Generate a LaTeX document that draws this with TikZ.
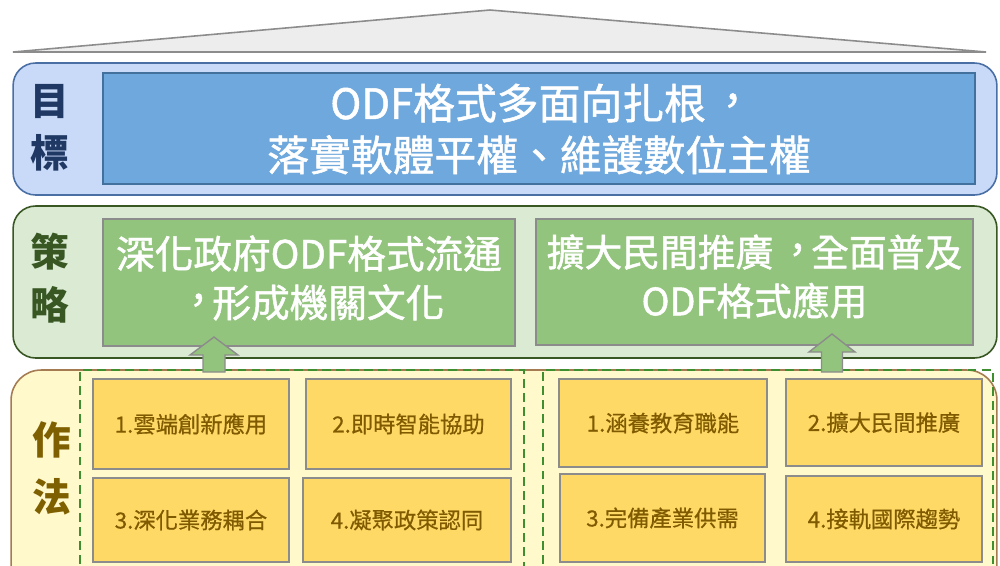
\documentclass[tikz,border=0pt]{standalone}
\usepackage{fontspec}
\setmainfont{Noto Sans CJK TC}
\newfontfamily\heavyfont{Noto Sans CJK TC}[FakeBold=1.2]
\newfontfamily\medfont{Noto Sans CJK TC}[FakeBold=0.6]
\newcommand\tcm{\makebox[1em][l]{\hspace{0.14em}\raisebox{0.08em}{\makebox[0pt][l]{，}}}}
\usetikzlibrary{calc}
\definecolor{roofF}{HTML}{EDEDED}
\definecolor{roofD}{HTML}{8C8C8C}
\definecolor{goalF}{HTML}{C9DAF8}
\definecolor{goalD}{HTML}{4A6FA5}
\definecolor{goalIF}{HTML}{6FA8DC}
\definecolor{goalID}{HTML}{41719C}
\definecolor{goalT}{HTML}{1F3864}
\definecolor{stratF}{HTML}{DAEAD3}
\definecolor{stratD}{HTML}{385723}
\definecolor{stratIF}{HTML}{93C47D}
\definecolor{stratT}{HTML}{385723}
\definecolor{pracF}{HTML}{FFF9CC}
\definecolor{pracD}{HTML}{A57C52}
\definecolor{pracT}{HTML}{7F6000}
\definecolor{dashG}{HTML}{3F8F30}
\definecolor{boxF}{HTML}{FFD966}
\definecolor{boxT}{HTML}{7F5A00}
\definecolor{greyD}{HTML}{8C8C8C}
\tikzset{
  panel/.style={draw, line width=0.9pt, rounded corners=0.45cm, inner sep=0pt},
  innerbox/.style={draw, line width=0.9pt, inner sep=0pt},
  bigtext/.style={text=white, align=center, inner sep=0pt,
     font=\heavyfont\fontsize{21.5pt}{27.8pt}\selectfont},
  sidelabel/.style={inner sep=0pt, font=\fontsize{22pt}{26pt}\selectfont\bfseries},
  smallbox/.style={draw=greyD, fill=boxF, line width=0.8pt, inner sep=0pt, text=boxT,
     font=\medfont\fontsize{12.7pt}{15pt}\selectfont},
  groupbox/.style={draw=dashG, dash pattern=on 5pt off 3pt, line width=1.5pt},
  blockarrow/.style={fill=stratIF, draw=greyD, line width=0.8pt}
}
\begin{document}
\begin{tikzpicture}[x=0.02cm,y=-0.02cm]
\useasboundingbox (0,0) rectangle (1000,565);
\clip (0,0) rectangle (1000,565);
\fill[white] (0,0) rectangle (1000,565);

% roof
\draw[fill=roofF, draw=roofD, line width=0.9pt] (13,52) -- (490,10) -- (986,52) -- cycle;

% goal
\node[panel, draw=goalD, fill=goalF, minimum width=19.68cm, minimum height=2.64cm] (goal) at (505,129) {};
\node[innerbox, draw=goalID, fill=goalIF, minimum width=17.44cm, minimum height=2.22cm] (goalbox) at (539,128.5) {};
\node[bigtext, font=\heavyfont\fontsize{23.8pt}{29.5pt}\selectfont] (goalt) at (539,129)
  {ODF格式多面向扎根\tcm\\落實軟體平權、維護數位主權};
\node[sidelabel, text=goalT] (g1) at (50,102) {目};
\node[sidelabel, text=goalT] (g2) at (50,153) {標};

% strategy
\node[panel, draw=stratD, fill=stratF, minimum width=19.68cm, minimum height=3.04cm] (strat) at (505,282) {};
\node[innerbox, draw=greyD, fill=stratIF, minimum width=8.24cm, minimum height=2.54cm] (s1) at (309,282.5) {};
\node[bigtext, font=\heavyfont\fontsize{22pt}{27.8pt}\selectfont] (s1t) at (309,278)
  {深化政府ODF格式流通\\\tcm 形成機關文化};
\node[innerbox, draw=greyD, fill=stratIF, minimum width=8.74cm, minimum height=2.52cm] (s2) at (754.5,282) {};
\node[bigtext] (s2t) at (754.5,276.5)
  {擴大民間推廣\tcm 全面普及\\ODF格式應用};
\node[sidelabel, text=stratT] (st1) at (50,252) {策};
\node[sidelabel, text=stratT] (st2) at (50,305) {略};

% practice
\node[panel, draw=pracD, fill=pracF, rounded corners=0.6cm, minimum width=19.72cm, minimum height=5cm] (prac) at (504,495) {};
\draw[groupbox] (80,620) -- (80,370) -- (524,370) -- (524,620);
\coordinate (gl) at (214,370);
\draw[groupbox] (543,620) -- (543,370) -- (993,370) -- (993,620);
\coordinate (gr) at (832,370);
\node[sidelabel, text=pracT] (p1) at (52,440) {作};
\node[sidelabel, text=pracT] (p2) at (52,497) {法};

\node[smallbox, minimum width=3.92cm, minimum height=1.8cm] (b1) at (191,424) {1.雲端創新應用};
\node[smallbox, minimum width=4.1cm, minimum height=1.8cm] (b2) at (408.5,424) {2.即時智能協助};
\node[smallbox, minimum width=3.92cm, minimum height=1.68cm] (b3) at (191,520) {3.深化業務耦合};
\node[smallbox, minimum width=4.16cm, minimum height=1.68cm] (b4) at (407,520) {4.凝聚政策認同};
\node[smallbox, minimum width=4.16cm, minimum height=1.76cm] (b5) at (663,423) {1.涵養教育職能};
\node[smallbox, minimum width=3.92cm, minimum height=1.74cm] (b6) at (884,422.5) {2.擴大民間推廣};
\node[smallbox, minimum width=4.1cm, minimum height=1.76cm] (b7) at (662.5,518) {3.完備產業供需};
\node[smallbox, minimum width=3.92cm, minimum height=1.72cm] (b8) at (884,519) {4.接軌國際趨勢};

% block arrows
\draw[blockarrow] ($(gl)+(-11,2)$) -- ++(0,-17) -- ++(-13,0) -- ($(gl)+(0,-33)$) -- ($(gl)+(24,-15)$) -- ++(-13,0) -- ++(0,17) -- cycle;
\draw[blockarrow] ($(gr)+(-10.5,2)$) -- ++(0,-20) -- ++(-12.5,0) -- ($(gr)+(0,-36)$) -- ($(gr)+(23,-18)$) -- ++(-12.5,0) -- ++(0,20) -- cycle;
\end{tikzpicture}
\end{document}
